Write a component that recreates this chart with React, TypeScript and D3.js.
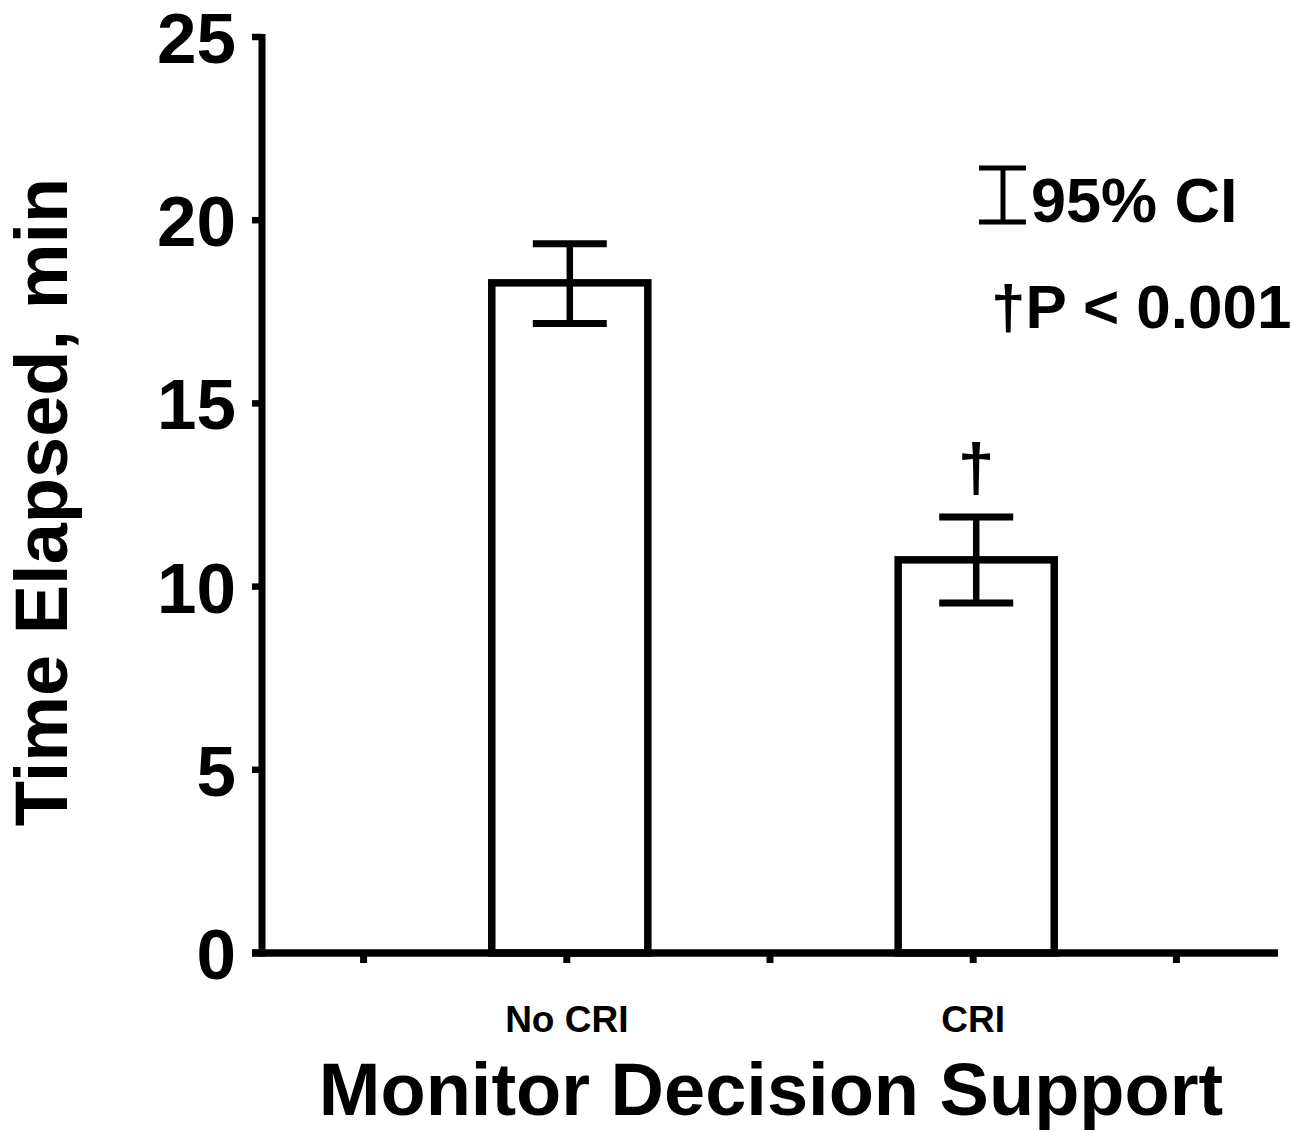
import React from "react";
import * as d3 from "d3";

const categories = ["No CRI", "CRI"];
const categoryPos = [1.5, 3.5];
const means = [18.29, 10.73];
const ciLower = [17.18, 9.55];
const ciUpper = [19.36, 11.9];
const significant = [false, true];
const yTicks = [0, 5, 10, 15, 20, 25];
const xTickPos = [0.5, 1.5, 2.5, 3.5, 4.5];

const W = 1292;
const H = 1131;
const FONT = "'Liberation Sans', Arial, Helvetica, sans-serif";

export default function App() {
  const y = d3.scaleLinear().domain([0, 25]).range([953, 37]);
  const x = d3.scaleLinear().domain([0, 5]).range([262, 1278]);
  const step = x(1) - x(0);
  const barW = step * 0.768;
  const capW = 74;

  return (
    <svg
      width={W}
      height={H}
      viewBox={`0 0 ${W} ${H}`}
      style={{ position: "absolute", left: 0, top: 0, background: "#fff" }}
      fontFamily={FONT}
      fontWeight="bold"
    >
      <rect x={0} y={0} width={W} height={H} fill="#fff" />
      {/* bars */}
      {categories.map((c, i) => {
        const cx = x(categoryPos[i]) + 3;
        return (
          <g key={c}>
            <rect
              x={cx - barW / 2}
              y={y(means[i])}
              width={barW}
              height={y(0) - y(means[i])}
              fill="#fff"
              stroke="#000"
              strokeWidth={7.5}
            />
            <line x1={cx} x2={cx} y1={y(ciUpper[i])} y2={y(ciLower[i])} stroke="#000" strokeWidth={6.5} />
            <line x1={cx - capW / 2} x2={cx + capW / 2} y1={y(ciUpper[i])} y2={y(ciUpper[i])} stroke="#000" strokeWidth={7} />
            <line x1={cx - capW / 2} x2={cx + capW / 2} y1={y(ciLower[i])} y2={y(ciLower[i])} stroke="#000" strokeWidth={7} />
            {significant[i] && (
              <text x={cx} y={y(ciUpper[i]) - 27} textAnchor="middle" fontSize={66}>
                †
              </text>
            )}
          </g>
        );
      })}
      {/* y axis */}
      <line x1={x(0)} x2={x(0)} y1={y(25) - 3} y2={y(0) + 3.5} stroke="#000" strokeWidth={7} />
      {yTicks.map((t) => (
        <g key={t}>
          <line x1={x(0) - 10} x2={x(0)} y1={y(t)} y2={y(t)} stroke="#000" strokeWidth={6.5} />
          <text x={236} y={y(t) + 26} textAnchor="end" fontSize={71}>
            {t}
          </text>
        </g>
      ))}
      {/* x axis */}
      <line x1={x(0) - 10} x2={x(5)} y1={y(0)} y2={y(0)} stroke="#000" strokeWidth={7.5} />
      {xTickPos.map((t) => (
        <line key={t} x1={x(t)} x2={x(t)} y1={y(0)} y2={y(0) + 10} stroke="#000" strokeWidth={7} />
      ))}
      {categories.map((c, i) => (
        <text key={c} x={x(categoryPos[i])} y={1032} textAnchor="middle" fontSize={37}>
          {c}
        </text>
      ))}
      {/* axis titles */}
      <text x={771} y={1115} textAnchor="middle" fontSize={74}>
        Monitor Decision Support
      </text>
      <text transform="translate(67,502) rotate(-90)" textAnchor="middle" fontSize={74}>
        Time Elapsed, min
      </text>
      {/* legend */}
      <g stroke="#000" strokeWidth={5}>
        <line x1={979} x2={1026} y1={168} y2={168} />
        <line x1={979} x2={1026} y1={222} y2={222} />
        <line x1={1003} x2={1003} y1={168} y2={222} />
      </g>
      <text x={1031} y={222} fontSize={63}>
        95% CI
      </text>
      <text x={991} y={328} fontSize={62}>
        †P &lt; 0.001
      </text>
    </svg>
  );
}
